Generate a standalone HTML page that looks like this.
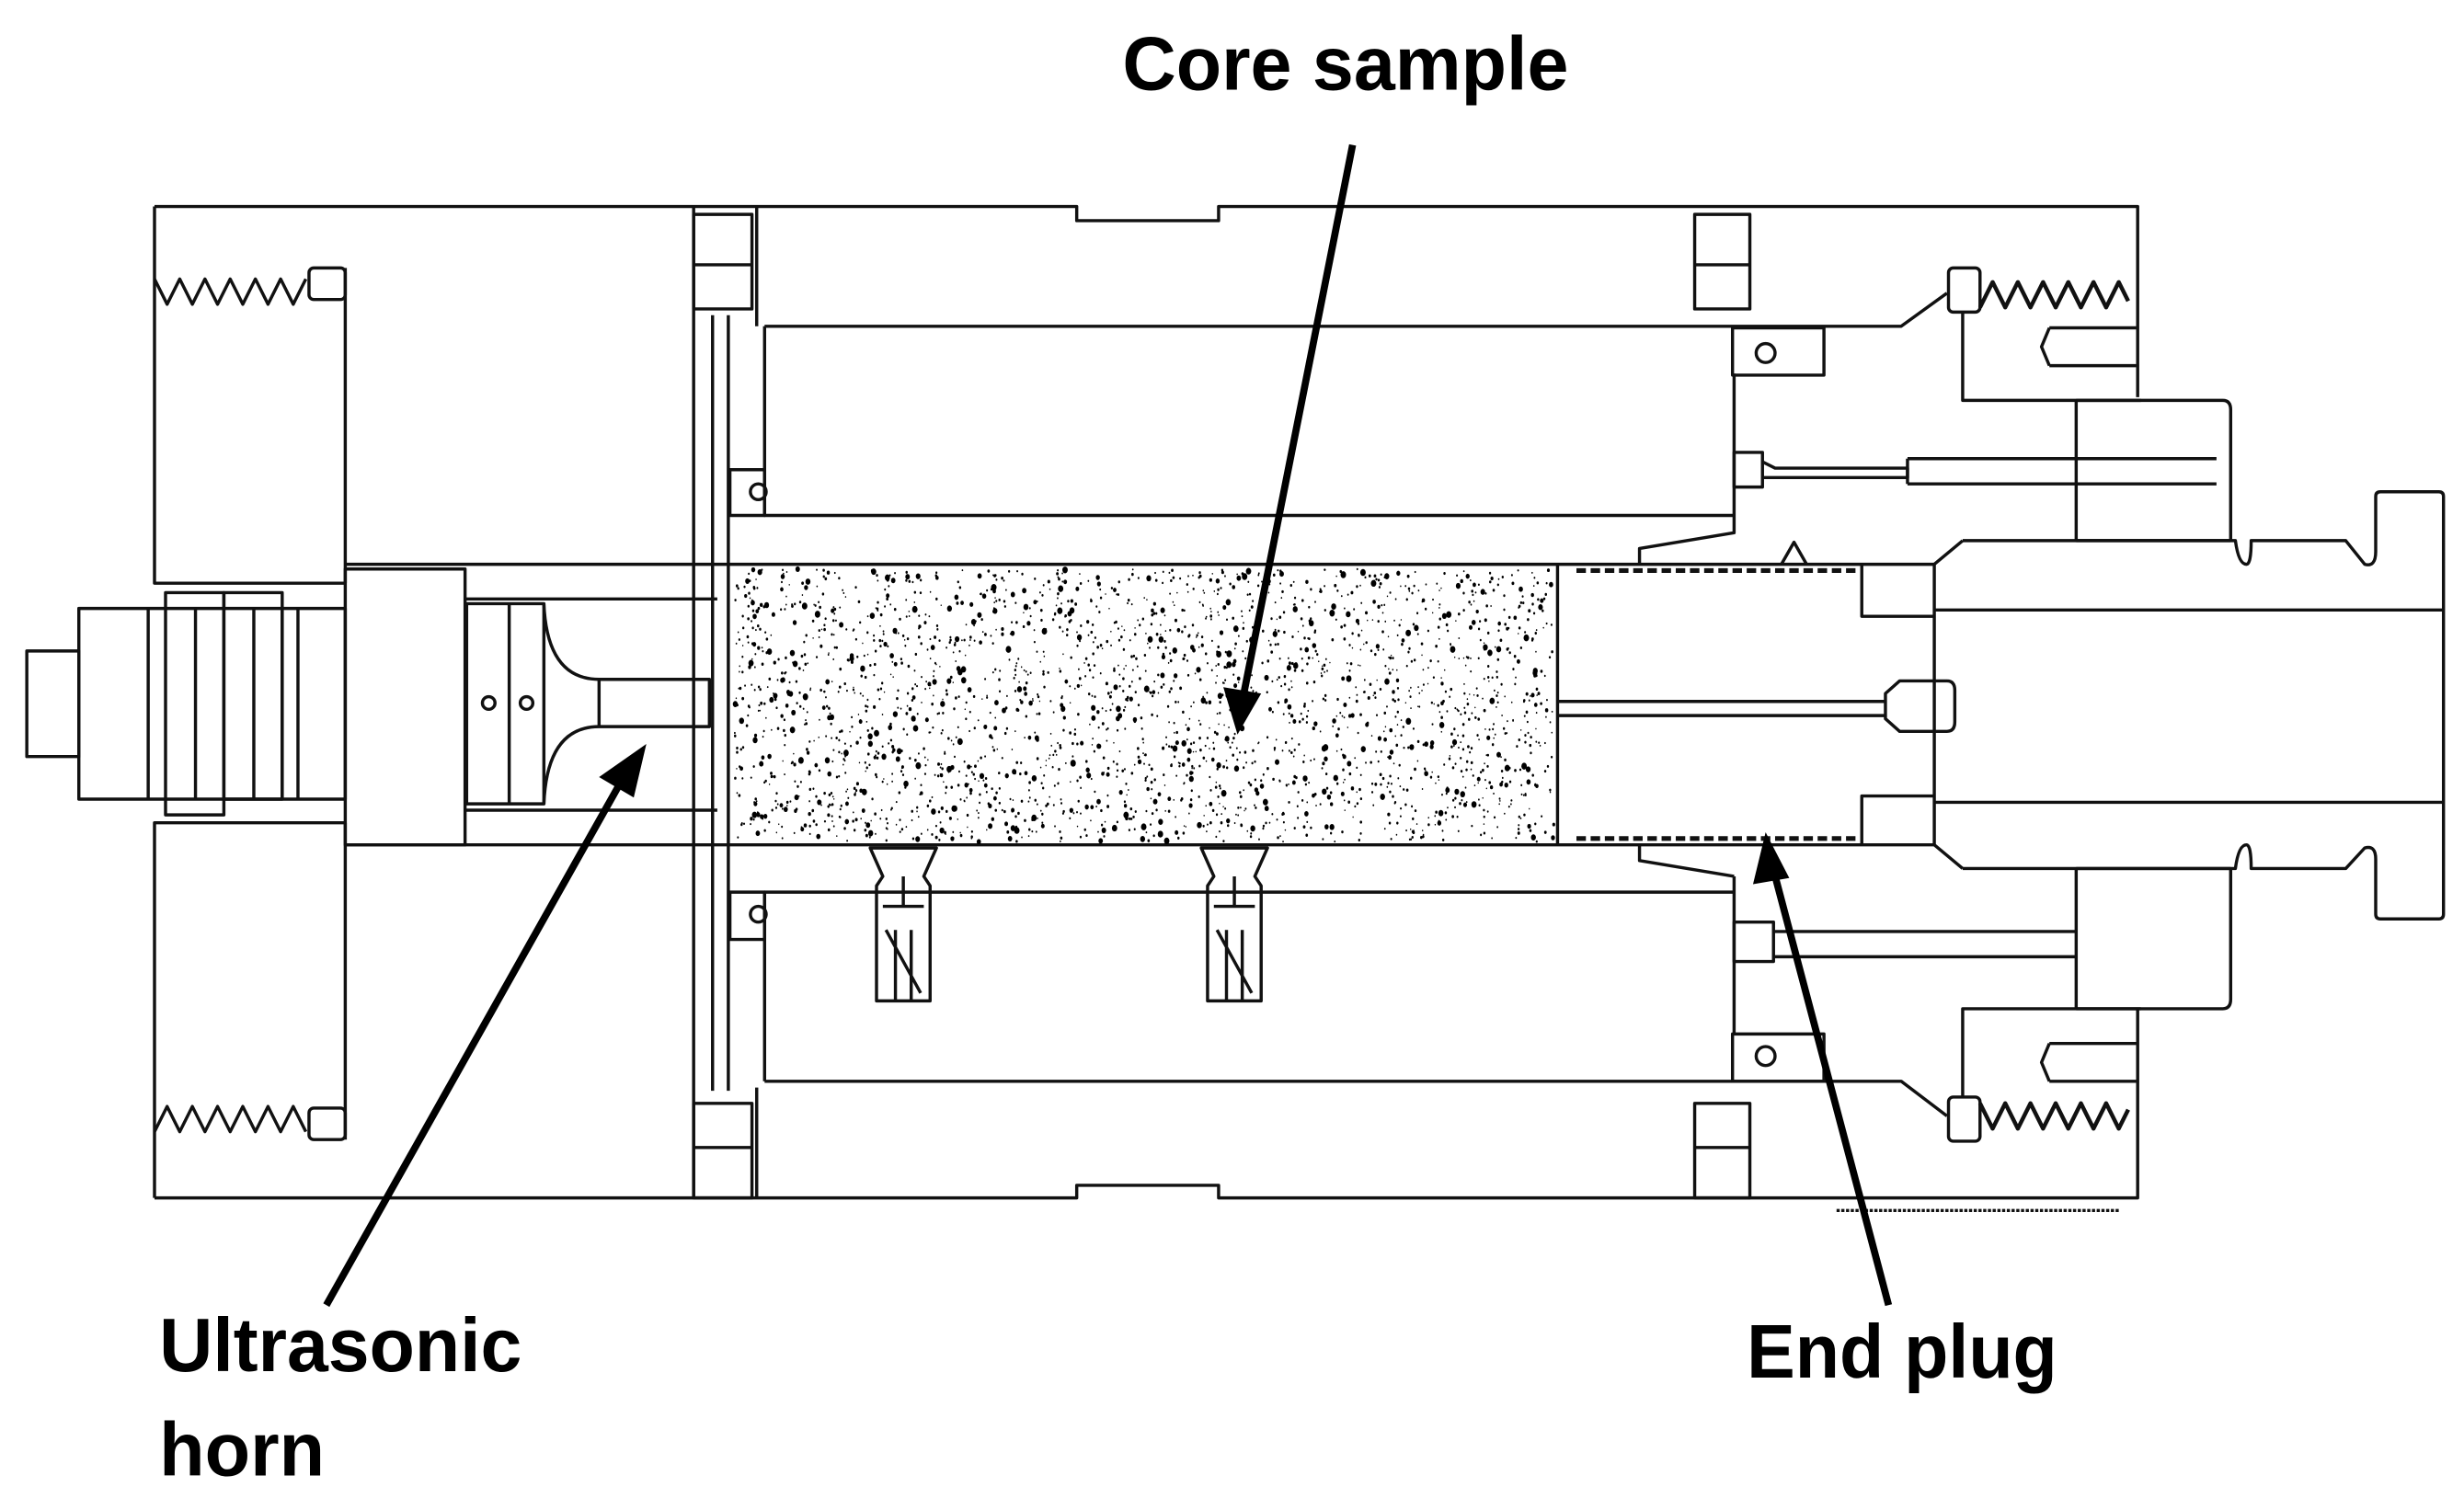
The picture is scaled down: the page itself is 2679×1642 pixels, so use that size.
<!DOCTYPE html>
<html><head><meta charset="utf-8"><style>
html,body{margin:0;padding:0;background:#fff;}
svg{display:block;}
text{font-family:"Liberation Sans",sans-serif;font-weight:bold;fill:#000;}
</style></head><body>
<svg id="s" width="2679" height="1642" viewBox="0 0 1563 958" xmlns="http://www.w3.org/2000/svg">
<rect width="1563" height="958" fill="#fff"/>
<g fill="none" stroke="#111" stroke-width="2" stroke-linejoin="round">
 <path d="M98,131 H683 V140 H773 V131 H1356 V252"/>
 <path d="M98,760 H683 V752 H773 V760 H1356 V640"/>
 <path d="M98,131 V370 H219 M98,760 V522 H219"/>
 <path d="M219,170 V370 M219,522 V723"/>
 <path d="M98,177 l8,16 l8,-16 l8,16 l8,-16 l8,16 l8,-16 l8,16 l8,-16 l8,16 l8,-16 l8,16 l8,-16"/>
 <rect x="196" y="170" width="23" height="20" rx="3"/>
 <path d="M98,718 l8,-16 l8,16 l8,-16 l8,16 l8,-16 l8,16 l8,-16 l8,16 l8,-16 l8,16 l8,-16 l8,16"/>
 <rect x="196" y="703" width="23" height="20" rx="3"/>
 <rect x="17" y="413" width="33" height="67"/>
 <rect x="50" y="386" width="169" height="121"/>
 <path d="M94,386 V507 M124,386 V507 M161,386 V507 M179,386 V507 M189,386 V507"/>
 <rect x="105" y="376" width="37" height="141"/>
 <rect x="142" y="376" width="37" height="131"/>
 <rect x="219" y="361" width="76" height="175"/>
 <path d="M219,358 H1227 M219,536 H1227"/>
 <path d="M295,380 H455 M295,514 H455"/>
 <rect x="296" y="383" width="49" height="127"/>
 <path d="M323,383 V510"/>
 <circle cx="310" cy="446" r="4"/><circle cx="334" cy="446" r="4"/>
 <path d="M345,383 Q347,431 380,431 H450 V461 H380 Q347,461 345,510"/>
 <path d="M380,431 V461"/>
 <path d="M452,200 V692 M462,200 V692"/>
 <rect x="440" y="136" width="37" height="60"/><path d="M440,168 H477"/>
 <rect x="440" y="700" width="37" height="60"/><path d="M440,728 H477"/>
 <rect x="1075" y="136" width="35" height="60"/><path d="M1075,168 H1110"/>
 <rect x="1075" y="700" width="35" height="60"/><path d="M1075,728 H1110"/>
 <path d="M440,131 V760 M480,131 V207 M480,690 V760"/>
 <path d="M485,207 H1206 L1235,186 M485,207 V327 H1100"/>
 <path d="M485,686 H1206 L1235,708 M485,686 V566 H1100"/>
 <path d="M463,298 H485 V327 H463 Z"/><circle cx="481" cy="312" r="5"/>
 <path d="M463,566 H485 V596 H463 Z"/><circle cx="481" cy="580" r="5"/>
 <path d="M1100,237 V338 L1040,348 V358"/>
 <path d="M1100,556 V656 M1040,536 V546 L1100,556"/>
 <rect x="1099" y="208" width="58" height="30"/><circle cx="1120" cy="224" r="6"/>
 <rect x="1099" y="656" width="58" height="30"/><circle cx="1120" cy="670" r="6"/>
 <rect x="1100" y="287" width="18" height="22"/><path d="M1118,293 L1126,297 H1210 V303 H1126 L1118,303"/>
 <path d="M1210,291 H1406 M1210,307 H1406 M1210,291 V307"/>
 <rect x="1100" y="585" width="25" height="25"/><path d="M1125,591 H1317 M1125,607 H1317"/>
 <rect x="1236" y="170" width="20" height="28" rx="3"/>
 <rect x="1236" y="696" width="20" height="28" rx="3"/>
 <path d="M1256,195 l8,-16 l8,16 l8,-16 l8,16 l8,-16 l8,16 l8,-16 l8,16 l8,-16 l8,16 l8,-16 l6,12" stroke-width="2.6"/>
 <path d="M1256,700 l8,16 l8,-16 l8,16 l8,-16 l8,16 l8,-16 l8,16 l8,-16 l8,16 l8,-16 l8,16 l6,-12" stroke-width="2.6"/>
 <path d="M1245,198 V254 H1358 M1245,696 V640 H1358"/>
 <path d="M1300,208 H1355 M1300,232 H1355 M1300,208 L1295,220 L1300,232"/>
 <path d="M1300,662 H1355 M1300,686 H1355 M1300,662 L1295,674 L1300,686"/>
 <path d="M1317,254 V343 M1317,640 V551"/>
 <path d="M1317,254 H1410 Q1415,254 1415,260 V343"/>
 <path d="M1317,640 H1410 Q1415,640 1415,634 V551"/>
 <path d="M1317,343 H1415 M1317,551 H1415"/>
 <path d="M1245,343 L1227,358 M1245,551 L1227,536"/>
 <path d="M1227,358 V536 M1227,387 H1550 M1227,509 H1550"/>
 <path d="M1245,343 H1418 Q1420,358 1425,358 Q1428,358 1428,343 H1488 L1500,358 Q1507,360 1507,350 V315 Q1507,312 1510,312 H1547 Q1550,312 1550,315 V580 Q1550,583 1547,583 H1510 Q1507,583 1507,580 V545 Q1507,536 1500,538 L1488,551 H1428 Q1428,536 1425,536 Q1420,536 1418,551 H1245"/>
 <path d="M988,358 V536"/>
 <path d="M1181,358 V391 H1227 M1181,536 V505 H1227"/>
 <path d="M988,445 H1196 M988,454 H1196"/>
 <path d="M1196,440 L1205,432 H1235 Q1240,432 1240,438 V458 Q1240,464 1235,464 H1205 L1196,456 Z"/>
 <path d="M1000,362 H1180 M1000,532 H1180" stroke-dasharray="6,3" stroke-width="3"/>
 <path d="M1130,358 L1138,344 L1146,358"/>
 <g id="sen"><path d="M552,538 L560,556 L556,562 V635 H590 V562 L586,556 L594,538 Z"/><path d="M560,575 H586 M573,556 V575 M562,590 L584,630 M568,590 V635 M578,590 V635"/></g>
 <use href="#sen" transform="translate(210,0)"/>
 <path d="M1165,768 H1345" stroke-dasharray="2,1" stroke-width="2"/>
</g>
<g id="dots" fill="#000"></g>
<g stroke="#000" stroke-width="4.5" fill="#000">
 <line x1="858" y1="92" x2="789" y2="440"/>
 <polygon points="785,466 776,436 800,440" stroke="none"/>
 <line x1="207" y1="828" x2="395" y2="494"/>
 <polygon points="410,472 402,506 380,493" stroke="none"/>
 <line x1="1198" y1="828" x2="1125" y2="552"/>
 <polygon points="1120,528 1135,557 1112,561" stroke="none"/>
</g>
<text x="712" y="57" font-size="48" textLength="283" lengthAdjust="spacingAndGlyphs">Core sample</text>
<text x="101" y="870" font-size="48" textLength="230" lengthAdjust="spacingAndGlyphs">Ultrasonic</text>
<text x="101" y="936" font-size="48" textLength="105" lengthAdjust="spacingAndGlyphs">horn</text>
<text x="1108" y="874" font-size="48" textLength="197" lengthAdjust="spacingAndGlyphs">End plug</text>
</svg>
<script>
(function(){var s=12345;function r(){s=(s*1103515245+12345)%2147483648;return s/2147483648;}
var g=document.getElementById('dots'),h='';
for(var i=0;i<2600;i++){var x=466+r()*520,y=361+r()*173,k=r();var rr=k<0.8?0.5+r()*0.5:1+r()*1.2;
h+='<ellipse cx="'+x.toFixed(1)+'" cy="'+y.toFixed(1)+'" rx="'+(rr*0.8).toFixed(2)+'" ry="'+rr.toFixed(2)+'"/>';}
g.innerHTML=h;})();
</script>
</body></html>
